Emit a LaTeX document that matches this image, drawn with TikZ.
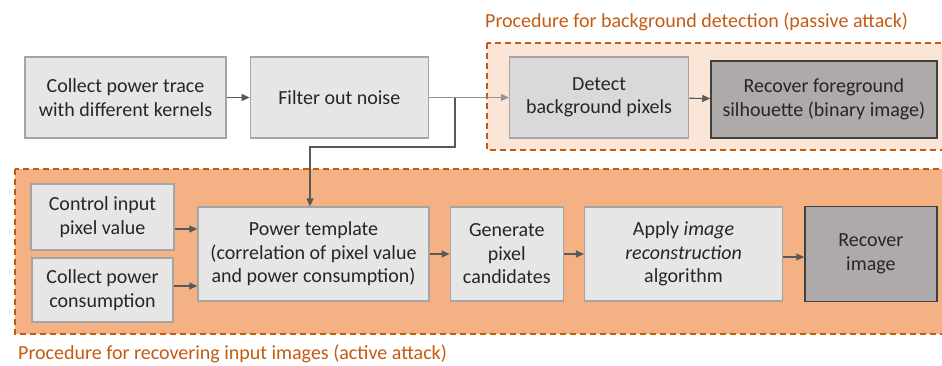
\documentclass[tikz,border=0pt]{standalone}
\usepackage{fontspec}
\setmainfont{Carlito}
\usetikzlibrary{arrows.meta, positioning}

\definecolor{boxgray}{HTML}{E7E6E6}
\definecolor{boxline}{HTML}{A5A5A5}
\definecolor{midgray}{HTML}{D9D9D9}
\definecolor{darkgray}{HTML}{AEAAAA}
\definecolor{darkline}{HTML}{404040}
\definecolor{linkgray}{HTML}{595959}
\definecolor{passivefill}{HTML}{FBE5D6}
\definecolor{activefill}{HTML}{F4B183}
\definecolor{procorange}{HTML}{C55A11}

\begin{document}
\begin{tikzpicture}[
  x=1pt, y=-1pt,
  box/.style={rectangle, draw=boxline, fill=boxgray, line width=1.3pt, align=center,
    inner sep=0pt, font=\fontsize{20pt}{23.5pt}\selectfont, text=black!85},
  darkbox/.style={box, draw=darkline, fill=darkgray},
  frame/.style={draw=procorange, line width=1.6pt, dash pattern=on 6pt off 4pt},
  caption/.style={anchor=west, inner sep=0pt, text=procorange, font=\fontsize{20pt}{24pt}\selectfont},
  arrow/.style={-{Triangle[length=8pt, width=7pt]}, line width=1.2pt, draw=linkgray}
  ]

\clip (0,0) rectangle (942,365);

% procedure frames
\draw[frame, fill=passivefill] (487,43) rectangle (952,150);
\draw[frame, fill=activefill] (15,169) rectangle (952,334);

\node[caption] (passivelabel) at (485,22) {Procedure for background detection (passive attack)};
\node[caption] (activelabel) at (18,354) {Procedure for recovering input images (active attack)};

% top row
\node[box, minimum width=201pt, minimum height=81pt] (trace) at (125.5,97.5) {Collect power trace\\with different kernels};
\node[box, minimum width=178pt, minimum height=81pt, right=23pt of trace] (filter) {Filter out noise};
\node[box, fill=midgray, minimum width=179pt, minimum height=81pt, right=80pt of filter] (detect) {Detect\\background pixels};
\node[darkbox, minimum width=226pt, minimum height=77pt, right=21pt of detect, yshift=-2pt] (silhouette) {Recover foreground\\silhouette (binary image)};

% bottom row
\node[box, minimum width=143pt, minimum height=66pt] (control) at (102.5,217) {Control input\\pixel value};
\node[box, minimum width=141pt, minimum height=64pt] (consumption) at (102.5,290) {Collect power\\consumption};
\node[box, minimum width=231pt, minimum height=94pt] (template) at (313.5,254) {Power template\\(correlation of pixel value\\and power consumption)};
\node[box, minimum width=113pt, minimum height=94pt, right=20pt of template] (candidates) {Generate\\pixel\\candidates};
\node[box, minimum width=198pt, minimum height=94pt, right=20pt of candidates] (reconstruct) {Apply \textit{image}\\\textit{reconstruction}\\algorithm};
\node[darkbox, minimum width=132pt, minimum height=95pt, right=21pt of reconstruct] (recover) {Recover\\image};

\coordinate (split) at (455,97.5);
\coordinate (bend) at (455,147);

\draw[arrow] (trace) -- (filter);
\draw[arrow, draw=boxline!90!black] (filter) -- (detect);
\draw[arrow] (detect) -- (silhouette);
\draw[arrow] (split) -- (bend) -| ([xshift=-3.5pt]template.north);
\draw[arrow] ([yshift=-12pt]control.east) -- ([yshift=-12pt]control.east -| template.west);
\draw[arrow] ([yshift=4pt]consumption.east) -- ([yshift=4pt]consumption.east -| template.west);
\draw[arrow] (template) -- (candidates);
\draw[arrow] (candidates) -- (reconstruct);
\draw[arrow] ([yshift=-3pt]reconstruct.east) -- ([yshift=-3pt]reconstruct.east -| recover.west);

\end{tikzpicture}
\end{document}
